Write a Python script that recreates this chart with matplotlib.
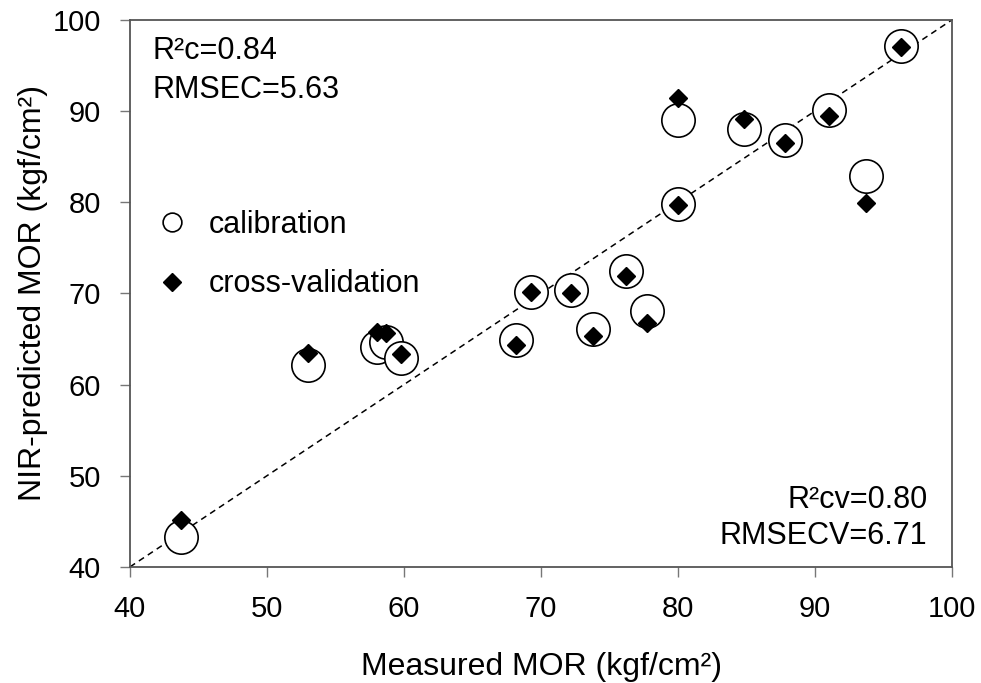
# Measured vs NIR-predicted MOR, calibration and cross-validation

from matplotlib import pyplot as plt

plt.rcParams['font.family'] = ['Liberation Sans', 'DejaVu Sans']

# Data Set
measured = [43.7, 53.0, 58.0, 58.7, 59.8, 68.2, 69.3, 72.2, 73.8, 76.2,
            77.7, 80.0, 80.0, 84.8, 87.8, 91.0, 93.7, 96.3]
calibration = [43.3, 62.1, 64.1, 64.7, 62.9, 64.9, 70.2, 70.4, 66.1, 72.5,
               68.1, 89.0, 79.8, 88.0, 86.8, 90.1, 82.9, 97.1]
cross_validation = [45.1, 63.5, 65.8, 65.6, 63.4, 64.3, 70.2, 70.0, 65.3, 71.9,
                    66.7, 91.4, 79.7, 89.1, 86.5, 89.5, 79.9, 97.0]

fig = plt.figure(figsize=(9.81, 6.83), dpi=100)
ax = fig.add_axes([0.1325, 0.170, 0.838, 0.801])

# 1:1 line
ax.plot([40, 100], [40, 100], color='black', linestyle=(0, (4, 3)), linewidth=1.1, zorder=1)

ax.plot(measured, calibration, linestyle='none', marker='o', markersize=24,
        markerfacecolor='white', markeredgecolor='black', markeredgewidth=1.2,
        label='calibration', zorder=2)
ax.plot(measured, cross_validation, linestyle='none', marker='D', markersize=9,
        color='black', label='cross-validation', zorder=3)

# Adjusting axis
ax.set_xlim(40, 100)
ax.set_ylim(40, 100)
ax.set_xticks(range(40, 101, 10))
ax.set_yticks(range(40, 101, 10))
ax.tick_params(direction='out', length=7, width=1, colors='#777777',
               labelcolor='black', labelsize=21)
ax.tick_params(axis='x', pad=13)
ax.tick_params(axis='y', pad=14)
for s in ax.spines.values():
    s.set_color('#555555')
    s.set_linewidth(1.3)

# Labels
ax.set_xlabel('Measured MOR (kgf/cm²)', fontsize=23, labelpad=21)
ax.set_ylabel('NIR-predicted MOR (kgf/cm²)', fontsize=23, labelpad=3)

ax.text(0.027, 0.970, 'R²c=0.84\nRMSEC=5.63', transform=ax.transAxes,
        fontsize=22, va='top', ha='left', linespacing=1.38)
ax.text(0.970, 0.029, 'R²cv=0.80\nRMSECV=6.71', transform=ax.transAxes,
        fontsize=22, va='bottom', ha='right', linespacing=1.25)

# Legend
leg = ax.legend(loc='upper left', bbox_to_anchor=(0.033, 0.652), frameon=False,
                fontsize=22, labelspacing=0.95, handletextpad=0.7, handlelength=1.0,
                borderaxespad=0, borderpad=0)
leg.legend_handles[0].set_markersize(13.5)
leg.legend_handles[1].set_markersize(9.5)

plt.savefig('out.png', dpi=100)
